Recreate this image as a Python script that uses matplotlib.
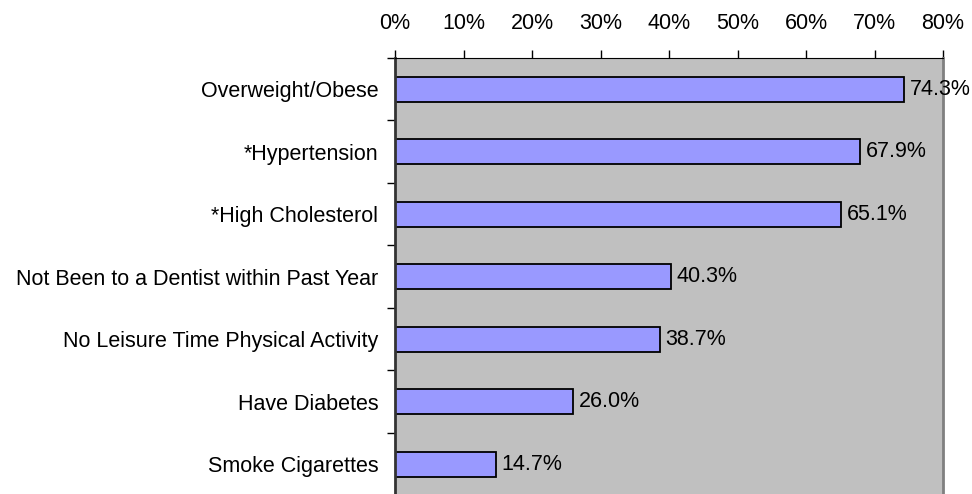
import matplotlib
matplotlib.use('Agg')
import matplotlib.pyplot as plt
import numpy as np

categories = ['Overweight/Obese', '*Hypertension', '*High Cholesterol',
              'Not Been to a Dentist within Past Year',
              'No Leisure Time Physical Activity', 'Have Diabetes',
              'Smoke Cigarettes']
values = [74.3, 67.9, 65.1, 40.3, 38.7, 26.0, 14.7]
x_ticks = [0, 10, 20, 30, 40, 50, 60, 70, 80]

plt.rcParams['font.family'] = ['Liberation Sans', 'DejaVu Sans']
fs = 15.5

fig = plt.figure(figsize=(9.72, 4.94), dpi=100)
ax = fig.add_axes([395 / 972, -0.003, 548 / 972, 1 - 58 / 494 + 0.003])
ax.set_facecolor('#C0C0C0')

y = np.arange(len(categories))
ax.barh(y, values, height=0.4, color='#9999FF', edgecolor='black', linewidth=1.3)

for yi, v in zip(y, values):
    ax.annotate('%.1f%%' % v, (v, yi), xytext=(4, 0), textcoords='offset points',
                va='center', ha='left', fontsize=fs)

ax.set_xlim(0, 80)
ax.set_ylim(len(categories) - 0.5, -0.5)

ax.xaxis.tick_top()
ax.set_xticks(x_ticks)
ax.set_xticklabels(['%d%%' % t for t in x_ticks], fontsize=fs)
ax.tick_params(axis='x', direction='out', length=6, width=1, pad=11)

ax.set_yticks(y)
ax.set_yticklabels(categories, fontsize=fs)
ax.tick_params(axis='y', which='major', length=0, pad=12)
ax.set_yticks(np.arange(-0.5, len(categories), 1), minor=True)
ax.tick_params(axis='y', which='minor', direction='out', length=6, width=1)

ax.spines['top'].set_color('black')
ax.spines['left'].set_color('#333333')
ax.spines['left'].set_linewidth(2)
ax.spines['right'].set_color('#808080')
ax.spines['right'].set_linewidth(2)
ax.spines['bottom'].set_visible(False)

fig.savefig('out.png', dpi=100)
